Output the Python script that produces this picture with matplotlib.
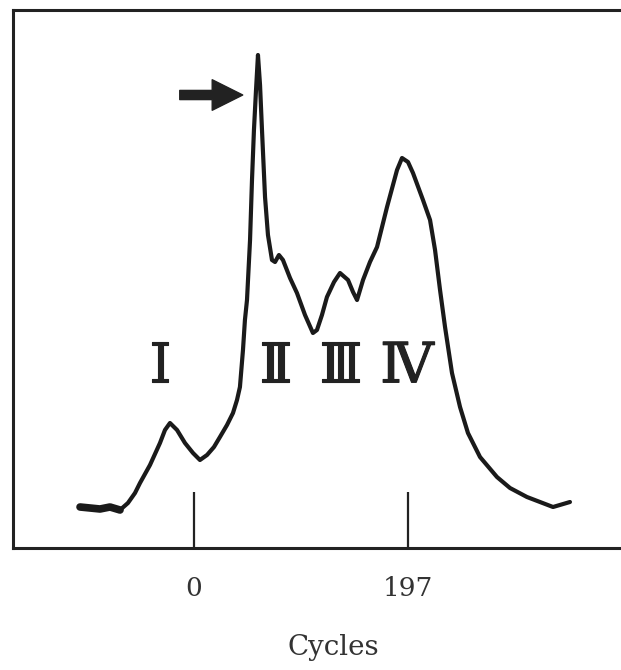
import numpy as np
import matplotlib
matplotlib.use("Agg")
from matplotlib import pyplot as plt
from matplotlib import patheffects

plt.rcParams['font.family'] = ['DejaVu Serif', 'DejaVu Sans']

# trace: cycles vs. signal (arbitrary units)
cycles = [-104.9, -95.7, -86.5, -77.3, -68.1, -60.8, -54.3, -49.7, -40.5, -31.3,
          -26.7, -22.1, -15.6, -8.3, -0.9, 5.5, 12.0, 18.4, 23.9, 30.4,
          35.9, 39.6, 42.3, 45.1, 46.9, 48.8, 51.6, 53.4, 55.2, 57.1,
          58.9, 60.8, 62.6, 65.4, 68.1, 71.8, 74.6, 78.2, 81.9, 88.4,
          94.8, 102.2, 109.5, 113.2, 117.8, 122.4, 128.9, 134.4, 141.8, 146.4,
          150.1, 155.6, 162.0, 168.5, 177.7, 186.9, 191.5, 197.0, 201.6, 210.8,
          217.3, 221.9, 226.5, 231.1, 237.5, 244.9, 252.2, 263.3, 278.9, 290.9,
          306.5, 330.5, 346.1]
signal = [41, 40, 39, 41, 38, 45, 55, 65, 83, 105,
          118, 125, 118, 105, 95, 88, 93, 101, 111, 123,
          135, 148, 161, 198, 228, 248, 308, 368, 418, 458,
          493, 463, 418, 351, 313, 288, 286, 293, 288, 270,
          255, 233, 215, 218, 233, 251, 266, 275, 268, 256,
          248, 268, 286, 301, 341, 378, 390, 386, 375, 348,
          328, 298, 258, 221, 175, 141, 115, 91, 71, 60,
          51, 41, 46]

tick_pos = [0, 197]
tick_lab = ["0", "197"]
regions = ["Ⅰ", "Ⅱ", "Ⅲ", "Ⅳ"]
region_x = [-31, 75, 135, 196]
region_y = 181

fig = plt.figure(figsize=(6.21, 6.70), dpi=100)
ax = fig.add_axes([13 / 621, 122 / 670, 640 / 621, 538 / 670])
ax.set_xlim(-166.6, (653 - 194) / 1.0863)
ax.set_ylim(0, 538)

ax.plot(cycles, signal, color="#1a1a1a", lw=3.0, solid_joinstyle="round", solid_capstyle="round")
# the noisy baseline at the start prints heavier
ax.plot(cycles[:5], signal[:5], color="#1a1a1a", lw=5.5, solid_capstyle="round")

for s in ["left", "top", "bottom"]:
    ax.spines[s].set_linewidth(2.2)
    ax.spines[s].set_color("#222222")
ax.spines["right"].set_visible(False)

ax.set_yticks([])
ax.set_xticks(tick_pos)
ax.set_xticklabels(tick_lab, fontsize=19, color="#333333")
ax.tick_params(axis="x", direction="in", length=40, width=1.6, pad=20, color="#222222")
ax.set_xlabel("Cycles", fontsize=20, color="#333333", labelpad=24)

for lab, xp in zip(regions, region_x):
    ax.text(xp, region_y, lab, fontsize=40, ha="center", va="center", color="#222222",
            path_effects=[patheffects.withStroke(linewidth=0.8, foreground="#222222")])

# arrow pointing at the sharp peak
pk = int(np.argmax(signal))
ax.annotate("", xy=(cycles[pk] - 14, signal[pk] - 40), xytext=(cycles[pk] - 72, signal[pk] - 40),
            arrowprops=dict(arrowstyle="simple,head_length=1.0,head_width=1.0,tail_width=0.3",
                            mutation_scale=22, color="#222222", shrinkA=0, shrinkB=0))

fig.savefig("out.png", dpi=100)
